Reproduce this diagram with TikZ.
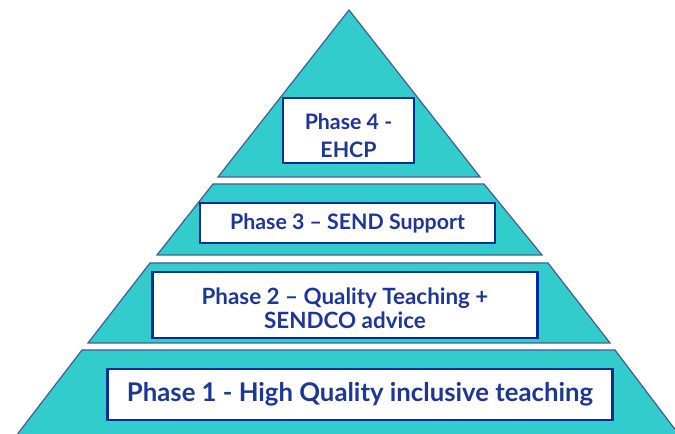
\documentclass[tikz,border=0pt]{standalone}
\usepackage{fontspec}
\setmainfont{Lato}
\definecolor{pyrfill}{RGB}{51,204,204}
\definecolor{pyredge}{RGB}{70,90,150}
\definecolor{boxblue}{RGB}{0,48,150}
\definecolor{textblue}{RGB}{30,55,150}
\tikzset{
        layer/.style={fill=pyrfill, draw=pyredge, line width=0.9pt, line join=miter},
        phasebox/.style={draw=boxblue, fill=white, line width=1.8pt, inner sep=0pt},
        phasetext/.style={text=textblue, font=\bfseries\fontsize{16}{21}\selectfont, align=center, inner sep=0pt},
          }
\begin{document}
\begin{tikzpicture}[x=0.75pt, y=-0.75pt]
  \useasboundingbox (0,0) rectangle (675,434);
  % pyramid layers, top to bottom
  \draw[layer] (349,10) -- (480,177) -- (218,177) -- cycle;
  \draw[layer] (213,184) -- (484,184) -- (542,255) -- (157,255) -- cycle;
  \draw[layer] (150,263) -- (548,263) -- (610,343) -- (88,343) -- cycle;
  \draw[layer] (82,350) -- (615,350) -- (680,436) -- (16,436) -- cycle;
  % phase boxes
  \node[phasebox, minimum width=98pt, minimum height=49pt] (phase4) at (348.5,130.5) {};
  \node[phasebox, minimum width=221pt, minimum height=30pt] (phase3) at (347.5,223) {};
  \node[phasebox, minimum width=289pt, minimum height=49.5pt] (phase2) at (345,305) {};
  \node[phasebox, minimum width=379pt, minimum height=38pt] (phase1) at (360,394.5) {};
  % texts
  \node[phasetext] (phase4text) at (348.5,136) {Phase 4 -\\EHCP};
  \node[phasetext] (phase3text) at (347.5,223.5) {Phase 3 -- SEND Support};
  \node[phasetext, font=\bfseries\fontsize{16.8}{18}\selectfont] (phase2text) at (345,308) {Phase 2 -- Quality Teaching +\\SENDCO advice};
  \node[phasetext, font=\bfseries\fontsize{19.3}{22}\selectfont] (phase1text) at (360,394) {Phase 1 - High Quality inclusive teaching};
\end{tikzpicture}
\end{document}
